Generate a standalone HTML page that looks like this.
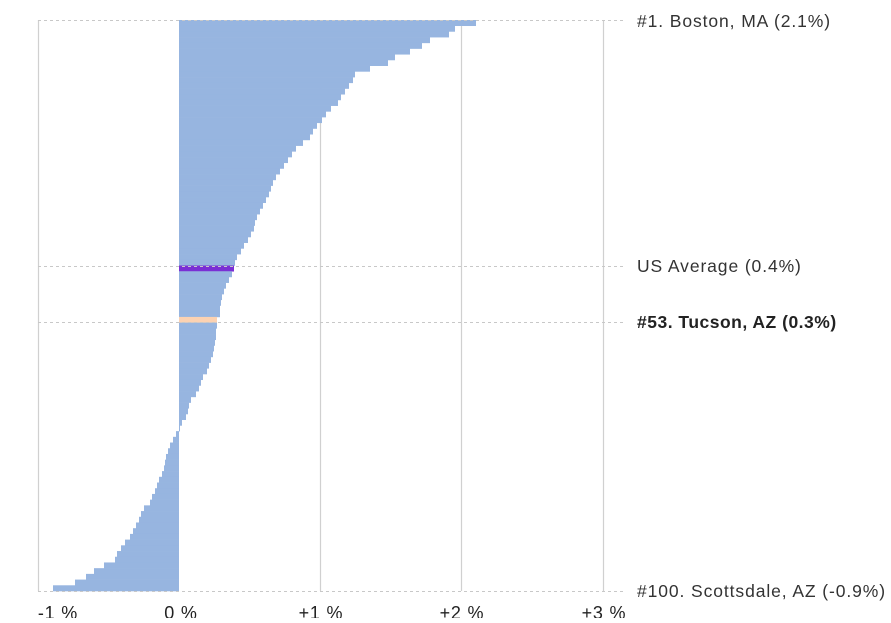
<!DOCTYPE html>
<html><head><meta charset="utf-8"><style>
body{margin:0;background:#fff;width:891px;height:618px;overflow:hidden;font-family:"Liberation Sans",sans-serif;}
</style></head><body>
<svg id="s" width="891" height="618" xmlns="http://www.w3.org/2000/svg">
<g stroke="#d0d0d0" stroke-width="1.2">
<line x1="38.5" y1="20" x2="38.5" y2="591"/>
<line x1="320.5" y1="20" x2="320.5" y2="591"/>
<line x1="461.5" y1="20" x2="461.5" y2="591"/>
<line x1="603.5" y1="20" x2="603.5" y2="591"/>
</g>
<g id="bars"></g>
<g stroke="#c8c8c8" stroke-width="1" stroke-dasharray="3,3">
<line x1="38" y1="20.5" x2="625" y2="20.5"/>
<line x1="38" y1="266.5" x2="625" y2="266.5"/>
<line x1="38" y1="322.5" x2="625" y2="322.5"/>
<line x1="38" y1="591.5" x2="625" y2="591.5"/>
</g>
<g font-size="17.5" fill="#333" letter-spacing="0.9">
<text x="637" y="27">#1. Boston, MA (2.1%)</text>
<text x="637" y="272">US Average (0.4%)</text>
<text x="637" y="328" font-weight="bold" fill="#222" letter-spacing="0.5">#53. Tucson, AZ (0.3%)</text>
<text x="637" y="597">#100. Scottsdale, AZ (-0.9%)</text>
</g>
<g font-size="18" fill="#222" text-anchor="middle" letter-spacing="0.8">
<text x="58" y="619">-1 %</text>
<text x="181" y="619">0 %</text>
<text x="321" y="619">+1 %</text>
<text x="462" y="619">+2 %</text>
<text x="604" y="619">+3 %</text>
</g>
</svg>
<script>
var k=[[20,478],[26,455],[32,449],[38,429],[46,418],[56,392],[62,386],[70,356],[80,352],[90,344],[100,338],[110,327],[118,322],[125,315],[135,310],[145,297],[155,290],[165,283],[175,276],[185,271],[195,268],[205,262],[215,257],[225,254],[235,250],[245,243],[255,237],[262,234],[270,233],[280,228],[290,223],[300,221],[310,220],[322,217],[330,216],[340,215],[350,214],[360,210],[368,207],[375,203],[385,200],[392,196],[400,189],[410,188],[415,186],[420,182],[426,180],[430,177],[440,171],[450,167],[460,165],[470,163],[480,158],[490,154],[500,150],[508,142],[515,140],[525,135],[535,130],[540,125],[550,118],[558,115],[565,100],[572,88],[578,84],[585,53],[592,53]];
function f(y){for(var i=0;i<k.length-1;i++){if(y<=k[i+1][0]){var t=(y-k[i][0])/(k[i+1][0]-k[i][0]);return k[i][1]+t*(k[i+1][1]-k[i][1]);}}return 53;}
var h=571/100,g=document.getElementById('bars'),s='';
for(var i=0;i<100;i++){var y=20+i*h,x=Math.round(f(y+0.5)),c='#97b5e0';
var x0=Math.min(179,x),w=Math.max(1,Math.abs(x-179));
if(Math.abs(y+h/2-266)<h/2){c='#7a2fd4';x0=179;w=55;}
if(Math.abs(y+h/2-322)<h/2){c='#fcd2b2';x0=179;w=38;}
s+='<rect x="'+x0+'" y="'+y.toFixed(2)+'" width="'+w+'" height="'+(h+0.3).toFixed(2)+'" fill="'+c+'"/>';}
g.innerHTML=s;
</script>
</body></html>
